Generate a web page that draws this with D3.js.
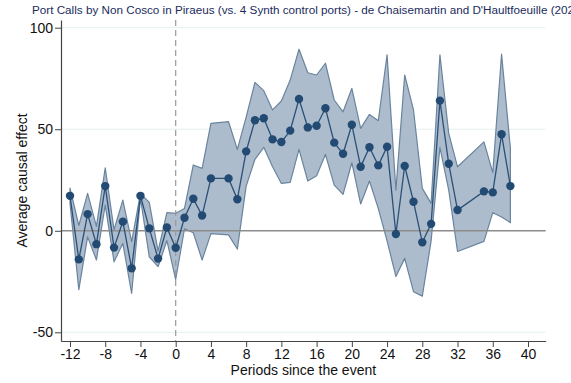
<!DOCTYPE html>
<html>
<head>
<meta charset="utf-8">
<script src="https://cdn.jsdelivr.net/npm/d3@7"></script>
<style>
  body { margin: 0; background: #fff; }
  text { font-family: "Liberation Sans", Arial, sans-serif; }
</style>
</head>
<body>
<script>
// event-study estimates, periods 5, 33 and 34 are missing
var periods = [-12, -11, -10, -9, -8, -7, -6, -5, -4, -3, -2, -1, 0, 1, 2, 3, 4, 6, 7, 8, 9, 10,
  11, 12, 13, 14, 15, 16, 17, 18, 19, 20, 21, 22, 23, 24, 25, 26, 27, 28, 29, 30, 31, 32, 35, 36, 37, 38];
var estimates = [17.2, -14.1, 8.2, -6.6, 22.0, -8.3, 4.5, -18.5, 17.2, 1.2, -13.7, 1.6, -8.4, 6.4, 15.8, 7.5, 25.8, 25.8, 15.5, 39.1, 54.4, 55.4,
  45.0, 43.7, 49.3, 64.9, 50.9, 51.7, 60.3, 43.4, 37.9, 52.2, 31.5, 41.1, 32.2, 41.4, -1.6, 31.9, 14.3, -5.7, 3.4, 64.1, 33.0, 10.2, 19.4, 18.9, 47.5, 22.0];
var upper = [21, 2.6, 18.4, 2.2, 31, 0.5, 15.1, -5.4, 18.4, 14, -10, 8.9, 8.6, 11, 32.4, 30.7, 52.9, 53.7, 40.1, 56, 73.1, 69.0,
  59.5, 63.9, 74.2, 89.4, 77.8, 76.7, 82.5, 64.4, 58.6, 70.1, 50.4, 57.3, 54.2, 86.6, 20.0, 76.7, 59.5, 20.9, 13.5, 86.6, 48.0, 31.5, 43.8, 28.6, 87.0, 40.6];
var lower = [13.5, -29, -3, -14.4, 12.7, -15.3, -6.2, -30.8, 16, -12.8, -17.7, -4.8, -24, 1, -1, -14.4, -1.4, -2, -9, 22, 35.2, 41.1,
  31.5, 23.3, 23.8, 40.1, 24.5, 27.1, 37.6, 22.5, 17.9, 33.5, 13.2, 24.5, 11, -5, -22.5, -13.6, -30, -32.2, -5, 41.1, 20, -10.2, -5.2, 8.9, 6.8, 4.0];

var xTicks = [-12, -8, -4, 0, 4, 8, 12, 16, 20, 24, 28, 32, 36, 40];
var yTicks = [-50, 0, 50, 100];

var title = "Port Calls by Non Cosco in Piraeus (vs. 4 Synth control ports) - de Chaisemartin and D'Haultfoeuille (2020)";

var data = periods.map(function(p, i) {
  return {t: p, est: estimates[i], lo: lower[i], hi: upper[i]};
});

var width = 571, height = 383;
var plot = {left: 61, right: 545.7, top: 20, bottom: 341};

var svg = d3.select("body").append("svg")
  .attr("width", width)
  .attr("height", height);

// scales fitted to the reference tick positions
var x0 = d3.scaleLinear().domain([-12, 40]).range([70, 528]);
var y0 = d3.scaleLinear().domain([-50, 100]).range([332.3, 27.7]);

var x = d3.scaleLinear()
  .domain([x0.invert(plot.left), x0.invert(plot.right)])
  .range([plot.left, plot.right]);
var y = d3.scaleLinear()
  .domain([y0.invert(plot.bottom), y0.invert(plot.top)])
  .range([plot.bottom, plot.top]);

// gridlines
svg.append("g")
  .selectAll("line")
  .data(yTicks.filter(function(d) { return d !== 0; }))
  .enter().append("line")
  .attr("x1", plot.left).attr("x2", plot.right)
  .attr("y1", function(d) { return y(d); })
  .attr("y2", function(d) { return y(d); })
  .attr("stroke", "#e6eff1")
  .attr("stroke-width", 1);

// confidence band
var area = d3.area()
  .x(function(d) { return x(d.t); })
  .y0(function(d) { return y(d.lo); })
  .y1(function(d) { return y(d.hi); });

svg.append("path")
  .datum(data)
  .attr("d", area)
  .attr("fill", "#acbccc")
  .attr("stroke", "#6a849e")
  .attr("stroke-width", 1.2)
  .attr("stroke-linejoin", "round");

// zero line and event line
svg.append("line")
  .attr("x1", plot.left).attr("x2", plot.right)
  .attr("y1", y(0)).attr("y2", y(0))
  .attr("stroke", "#8c8c8c")
  .attr("stroke-width", 1.6);

svg.append("line")
  .attr("x1", x(0)).attr("x2", x(0))
  .attr("y1", plot.top).attr("y2", plot.bottom)
  .attr("stroke", "#999")
  .attr("stroke-width", 1.2)
  .attr("stroke-dasharray", "6,4");

// estimates
var line = d3.line()
  .x(function(d) { return x(d.t); })
  .y(function(d) { return y(d.est); });

svg.append("path")
  .datum(data)
  .attr("d", line)
  .attr("fill", "none")
  .attr("stroke", "#2a5078")
  .attr("stroke-width", 1.3);

svg.append("g")
  .selectAll("circle")
  .data(data)
  .enter().append("circle")
  .attr("cx", function(d) { return x(d.t); })
  .attr("cy", function(d) { return y(d.est); })
  .attr("r", 4.2)
  .attr("fill", "#224a72");

// axes (plain hyphen for negatives, as in the original)
var fmt = function(d) { return String(d); };

var yAxis = svg.append("g")
  .attr("transform", "translate(" + plot.left + ",0)")
  .call(d3.axisLeft(y).tickValues(yTicks).tickFormat(fmt).tickSize(6).tickPadding(2).tickSizeOuter(0));

var xAxis = svg.append("g")
  .attr("transform", "translate(0," + plot.bottom + ")")
  .call(d3.axisBottom(x).tickValues(xTicks).tickFormat(fmt).tickSize(6).tickPadding(2).tickSizeOuter(0));

[xAxis, yAxis].forEach(function(a) {
  a.select(".domain").attr("stroke", "#444").attr("stroke-width", 1.2);
  a.selectAll(".tick line").attr("stroke", "#444");
  a.selectAll(".tick text")
    .attr("fill", "#111")
    .style("font-size", "14px")
    .style("font-family", "'Liberation Sans', Arial, sans-serif");
});

// titles
svg.append("text")
  .attr("x", (plot.left + plot.right) / 2)
  .attr("y", 375)
  .attr("text-anchor", "middle")
  .attr("fill", "#111")
  .style("font-size", "14px")
  .text("Periods since the event");

svg.append("text")
  .attr("transform", "translate(27," + ((plot.top + plot.bottom) / 2) + ") rotate(-90)")
  .attr("text-anchor", "middle")
  .attr("fill", "#111")
  .style("font-size", "14px")
  .text("Average causal effect");

svg.append("text")
  .attr("x", 32)
  .attr("y", 14)
  .attr("fill", "#1b2c5c")
  .style("font-size", "11.7px")
  .text(title);
</script>
</body>
</html>
